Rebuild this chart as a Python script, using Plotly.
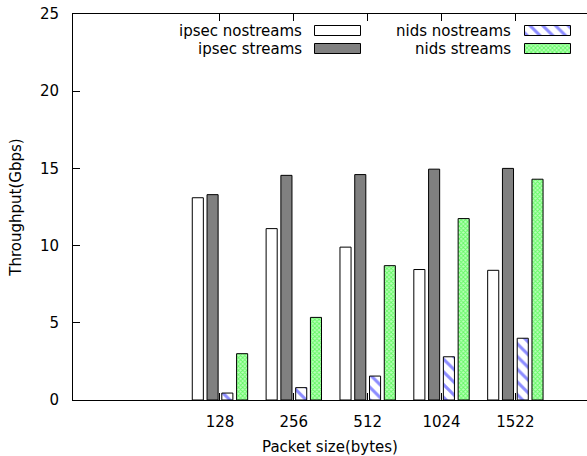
import plotly.graph_objects as go

# Packet sizes (bytes) on the x axis
packet_sizes = ["128", "256", "512", "1024", "1522"]

# Throughput in Gbps for each configuration
ipsec_nostreams = [13.1, 11.1, 9.9, 8.45, 8.4]
ipsec_streams = [13.3, 14.55, 14.6, 14.95, 15.0]
nids_nostreams = [0.45, 0.8, 1.55, 2.8, 4.0]
nids_streams = [3.0, 5.35, 8.7, 11.75, 14.3]

y_ticks = [0, 5, 10, 15, 20, 25]

FONT = "DejaVu Sans"
W, H = 587, 456
ML, MT, MB, MR = 73, 14, 56, 0
PW, PH = W - ML - MR, H - MT - MB

styles = {
    "ipsec nostreams": dict(color="white"),
    "ipsec streams": dict(color="#808080"),
    "nids nostreams": dict(color="white",
                           pattern=dict(shape="\\", fgcolor="#1a1aff", bgcolor="white",
                                        size=9, solidity=0.34)),
    "nids streams": dict(color="#a0ffa0",
                         pattern=dict(shape="x", fgcolor="#10f010", bgcolor="#b8ffb8",
                                      size=3, solidity=0.5)),
}
series = [
    ("ipsec nostreams", ipsec_nostreams),
    ("ipsec streams", ipsec_streams),
    ("nids nostreams", nids_nostreams),
    ("nids streams", nids_streams),
]

fig = go.Figure()
for name, vals in series:
    fig.add_trace(go.Bar(
        x=packet_sizes, y=vals, name=name, showlegend=False,
        marker=dict(line=dict(color="black", width=1), **styles[name]),
    ))

# Key boxes drawn on a pixel-scaled overlay axis (text right, box left of it)
key_layout = [
    # name, text right edge, box left, row centre (px inside plot area)
    ("ipsec nostreams", 230.5, 241.5, 16.5),
    ("ipsec streams", 230.5, 241.5, 34.5),
    ("nids nostreams", 440.0, 451.5, 16.5),
    ("nids streams", 440.0, 451.5, 34.5),
]
KEY_W, KEY_H = 46, 10
for name, tx, bx, cy in key_layout:
    fig.add_trace(go.Bar(
        x=[KEY_W], y=[cy], base=[bx], orientation="h", width=KEY_H, offset=-KEY_H / 2,
        xaxis="x2", yaxis="y2", showlegend=False, hoverinfo="skip",
        marker=dict(line=dict(color="black", width=1), **styles[name]),
    ))
    fig.add_annotation(
        x=tx, y=cy, xref="x2", yref="y2", text=name, showarrow=False,
        xanchor="right", yanchor="middle",
        font=dict(family=FONT, size=15, color="black"),
    )

fig.update_layout(
    width=W, height=H,
    margin=dict(l=ML, r=MR, t=MT, b=MB, pad=0),
    paper_bgcolor="white", plot_bgcolor="white",
    barmode="group", bargap=0.2, bargroupgap=0.25,
    font=dict(family=FONT, size=15, color="black"),
    xaxis=dict(
        range=[-1.99, 4.97], showgrid=False, zeroline=False,
        showline=True, linecolor="black", linewidth=1, mirror="ticks",
        ticks="inside", ticklen=7, tickcolor="black",
        ticklabelstandoff=8,
        title=dict(text="Packet size(bytes)", standoff=13, font=dict(size=15)),
        automargin=False,
    ),
    yaxis=dict(
        range=[0, 25], tickvals=y_ticks, showgrid=False, zeroline=False,
        showline=True, linecolor="black", linewidth=1,
        ticks="inside", ticklen=7, tickcolor="black",
        ticklabelstandoff=10,
        title=dict(text="Throughput(Gbps)", standoff=14, font=dict(size=15)),
        automargin=False,
    ),
    xaxis2=dict(overlaying="x", range=[0, PW], visible=False, fixedrange=True),
    yaxis2=dict(overlaying="y", range=[PH, 0], visible=False, fixedrange=True),
)

fig.write_html("out.html")
